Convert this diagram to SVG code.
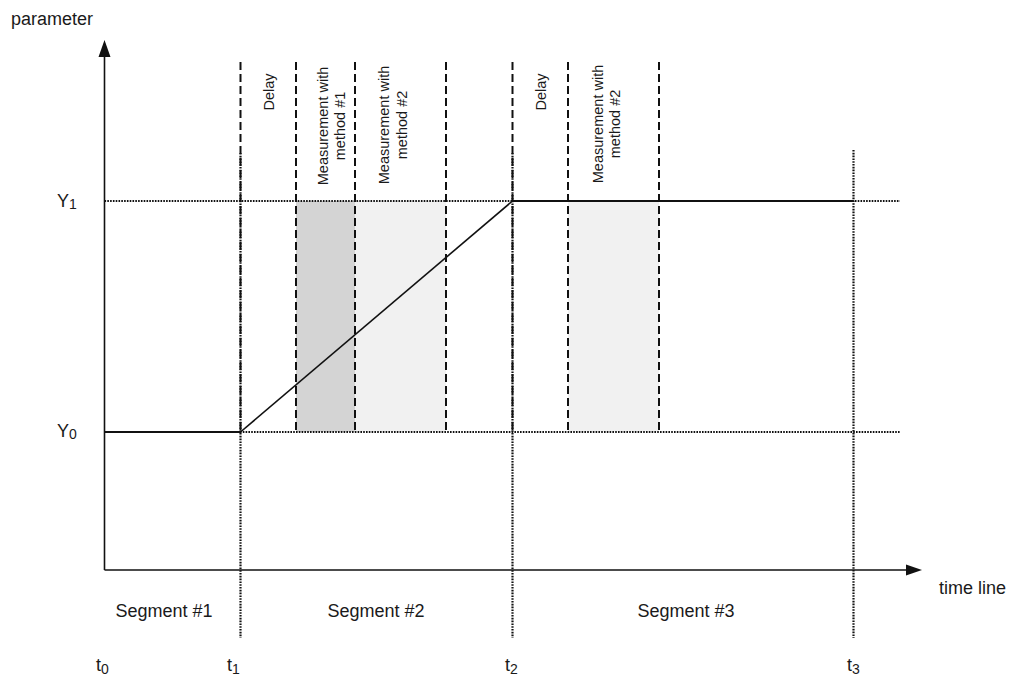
<svg xmlns="http://www.w3.org/2000/svg" width="1013" height="677" viewBox="0 0 1013 677">
<style>
text{font-family:"Liberation Sans",Arial,sans-serif;fill:#1a1a1a}
.lbl{font-size:18px}
.rot{font-size:14.5px;text-anchor:middle}
.sub{font-size:14px}
.axis{stroke:#111;stroke-width:1.6;fill:none}
.dot{stroke:#111;stroke-width:2.2;stroke-dasharray:1.6 1.2;fill:none}
.dash{stroke:#111;stroke-width:2;stroke-dasharray:8 4;fill:none}
.solid{stroke:#111;stroke-width:2.2;fill:none}
.ramp{stroke:#111;stroke-width:1.6;fill:none}
</style>
<rect width="1013" height="677" fill="#fff"/>
<g id="shading">
<rect x="296" y="201" width="59" height="231" fill="#d4d4d4"/>
<rect x="355" y="201" width="91" height="231" fill="#f1f1f1"/>
<rect x="568" y="201" width="91" height="231" fill="#f1f1f1"/>
</g>
<g id="levels">
<line class="dot" x1="104.5" y1="201" x2="900" y2="201"/>
<line class="dot" x1="240" y1="432" x2="900" y2="432"/>
</g>
<g id="time-marks">
<line class="dot" x1="240.5" y1="153" x2="240.5" y2="638"/>
<line class="dot" x1="512.5" y1="153" x2="512.5" y2="638"/>
<line class="dot" x1="853.5" y1="150" x2="853.5" y2="638"/>
</g>
<g id="phase-bounds">
<line class="dash" x1="240.5" y1="62" x2="240.5" y2="432"/>
<line class="dash" x1="296" y1="62" x2="296" y2="432"/>
<line class="dash" x1="355" y1="62" x2="355" y2="432"/>
<line class="dash" x1="446" y1="62" x2="446" y2="432"/>
<line class="dash" x1="512.5" y1="62" x2="512.5" y2="432"/>
<line class="dash" x1="568" y1="62" x2="568" y2="432"/>
<line class="dash" x1="659" y1="62" x2="659" y2="432"/>
</g>
<g id="connectors">
<line class="solid" x1="104.5" y1="432" x2="240.5" y2="432"/>
<line class="ramp" x1="240.5" y1="432" x2="512.5" y2="201"/>
<line class="solid" x1="512.5" y1="201" x2="853.5" y2="201"/>
</g>
<g id="axes">
<line class="axis" x1="104.5" y1="56" x2="104.5" y2="570"/>
<polygon points="104.5,40 98.5,57 110.5,57" fill="#111"/>
<line class="axis" x1="104.5" y1="570" x2="907" y2="570"/>
<polygon points="922,570 906,564.5 906,575.5" fill="#111"/>
<text class="lbl" x="11" y="25">parameter</text>
<text class="lbl" x="939" y="594">time line</text>
</g>
<g id="y-labels">
<text class="lbl" x="57" y="207">Y<tspan class="sub" dy="2">1</tspan></text>
<text class="lbl" x="57" y="437">Y<tspan class="sub" dy="2">0</tspan></text>
</g>
<g id="t-labels">
<text class="lbl" x="96" y="671">t<tspan class="sub" dy="3">0</tspan></text>
<text class="lbl" x="227" y="671">t<tspan class="sub" dy="3">1</tspan></text>
<text class="lbl" x="505" y="671">t<tspan class="sub" dy="3">2</tspan></text>
<text class="lbl" x="847" y="671">t<tspan class="sub" dy="3">3</tspan></text>
</g>
<g id="segments">
<text class="lbl" x="164" y="617" text-anchor="middle">Segment #1</text>
<text class="lbl" x="376" y="617" text-anchor="middle">Segment #2</text>
<text class="lbl" x="686" y="617" text-anchor="middle">Segment #3</text>
</g>
<g id="phase-labels">
<text class="rot" transform="translate(274 92) rotate(-90)">Delay</text>
<text class="rot" transform="translate(328 126) rotate(-90)">Measurement with<tspan x="0" dy="17">method #1</tspan></text>
<text class="rot" transform="translate(389 125) rotate(-90)">Measurement with<tspan x="0" dy="17.5">method #2</tspan></text>
<text class="rot" transform="translate(546 92) rotate(-90)">Delay</text>
<text class="rot" transform="translate(603 124) rotate(-90)">Measurement with<tspan x="0" dy="16.5">method #2</tspan></text>
</g>
</svg>
